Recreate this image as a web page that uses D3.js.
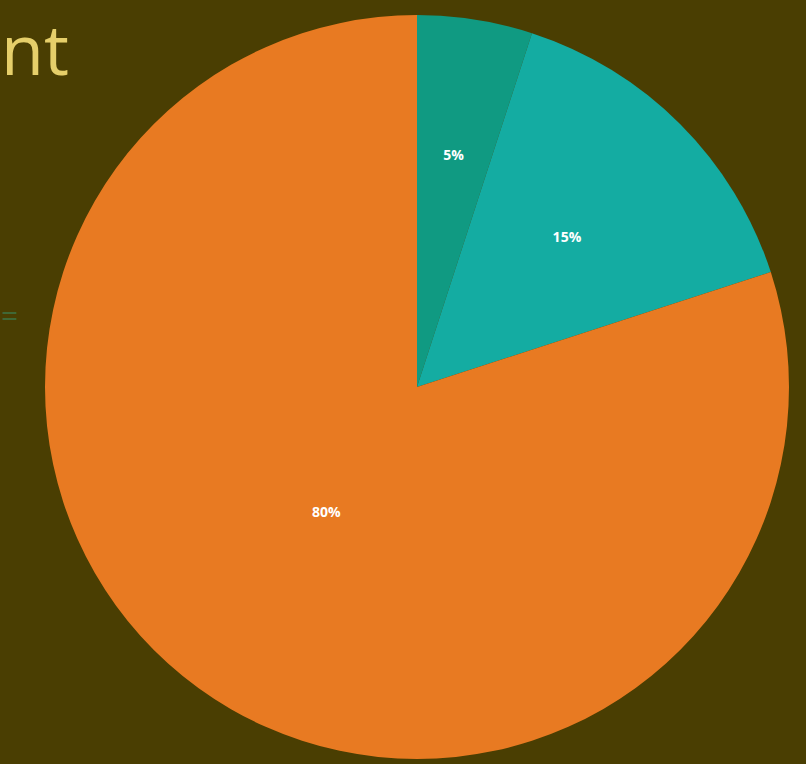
<!DOCTYPE html>
<html>
<head>
<meta charset="utf-8">
<script src="https://cdn.jsdelivr.net/npm/d3@7/dist/d3.min.js"></script>
<style>
  html, body { margin: 0; padding: 0; background: #4a3e02; }
  svg { display: block; }
</style>
</head>
<body>
<svg id="chart" width="806" height="764"></svg>
<script>
// Share of each segment (percent)
const categories = ["A", "B", "C"];
const values = [5, 15, 80];
const labels = ["5%", "15%", "80%"];
const colors = ["#109a82", "#14aca2", "#e87a22"];

const width = 806, height = 764;
const cx = 417, cy = 387, radius = 372;
// Label distance from the centre as a fraction of the radius
const labelFactor = [0.63, 0.57, 0.415];

const svg = d3.select("#chart");

svg.append("rect")
  .attr("width", width).attr("height", height)
  .attr("fill", "#4a3e02");

// Title fragment at the top left
svg.append("text")
  .attr("x", 1).attr("y", 75)
  .attr("font-family", "'Open Sans', 'Noto Sans', sans-serif")
  .attr("font-size", 70)
  .attr("font-weight", 400)
  .attr("fill", "#e6cf6a")
  .text("nt");

// Faint mark on the left edge
svg.append("text")
  .attr("x", 1).attr("y", 326)
  .attr("font-family", "'Open Sans', sans-serif")
  .attr("font-size", 30)
  .attr("fill", "#3d7a4c")
  .attr("opacity", 0.7)
  .text("=");

const pie = d3.pie().sort(null).value(d => d)(values);
const arc = d3.arc().innerRadius(0).outerRadius(radius);

const g = svg.append("g").attr("transform", `translate(${cx},${cy})`);

g.selectAll("path.slice")
  .data(pie)
  .join("path")
  .attr("class", "slice")
  .attr("d", arc)
  .attr("fill", (d, i) => colors[i]);

g.selectAll("text.lbl")
  .data(pie)
  .join("text")
  .attr("class", "lbl")
  .attr("transform", (d, i) => {
    const a = (d.startAngle + d.endAngle) / 2;
    const r = radius * labelFactor[i];
    return `translate(${r * Math.sin(a)},${-r * Math.cos(a)})`;
  })
  .attr("text-anchor", "middle")
  .attr("dy", "0.35em")
  .attr("font-family", "'Open Sans', 'DejaVu Sans', sans-serif")
  .attr("font-size", 14)
  .attr("font-weight", 700)
  .attr("fill", "#ffffff")
  .text((d, i) => labels[i]);
</script>
</body>
</html>
